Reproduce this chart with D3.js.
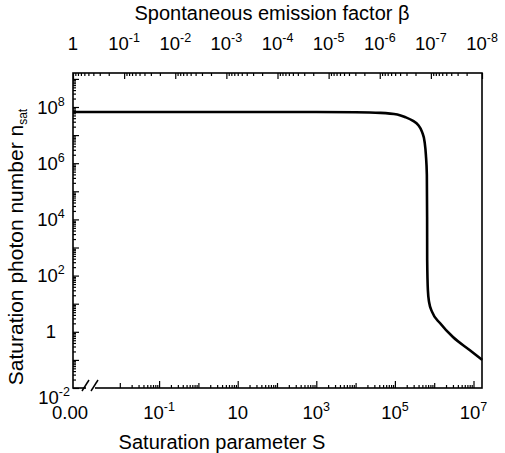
<!DOCTYPE html>
<html><head><meta charset="utf-8">
<script src="https://cdn.jsdelivr.net/npm/d3@7"></script>
<style>
body{margin:0;background:#fff}
text{font-family:"Liberation Sans",Arial,Helvetica,sans-serif;fill:#000}
</style></head>
<body>
<svg id="c" width="505" height="453"></svg>
<script>
// ---- data ----
const sValues = [0, 1e-3, 1e-1, 1e1, 1e3, 1e4, 4.3e4, 1.15e5, 1.8e5, 2.9e5, 3.9e5, 4.9e5, 5.7e5, 6.15e5, 6.5e5, 6.6e5, 6.63e5, 6.9e5, 7.4e5, 8.9e5, 1.4e6, 3.0e6, 8.1e6, 1.66e7];
const nValues = [6.6e7, 6.6e7, 6.6e7, 6.6e7, 6.6e7, 6.5e7, 6.2e7, 5.4e7, 4.4e7, 3.2e7, 2.3e7, 1.3e7, 5.7e6, 1.95e6, 3.8e5, 1.2e4, 3.6e2, 31, 11.5, 5.0, 2.05, 0.65, 0.22, 0.10];
const sLabelExps = [-1, 1, 3, 5, 7];
const nLabelExps = [8, 6, 4, 2, 0, -2];
const betaLabelExps = [0, -1, -2, -3, -4, -5, -6, -7, -8];
const zeroLabel = "0.00";
const xTitle = "Saturation parameter S";
const topTitle = "Spontaneous emission factor β";
const yTitleMain = "Saturation photon number n";
const yTitleSub = "sat";

// ---- layout ----
const L = 73, R = 482, T = 73, B = 388;
const svg = d3.select("#c");

const xLog = d3.scaleLog().domain([1e-3, 1e7]).range([80.5, 473.5]);
const xS = s => s === 0 ? L : xLog(s);
const y = d3.scaleLog().domain([1e-2, Math.pow(10, 9.21)]).range([B, T]);
const xB = d3.scaleLog().domain([1, 1e-8]).range([L, R]);

function decadeTicks(lo, hi, vmin, vmax) {
  const maj = [], min = [];
  for (let k = lo; k <= hi; k++) {
    for (let m = 1; m <= 9; m++) {
      const v = m * Math.pow(10, k);
      if (v < vmin * 0.9999 || v > vmax * 1.0001) continue;
      (m === 1 ? maj : min).push(v);
    }
  }
  return {maj, min};
}

const g = svg.append("g");

// y axis ticks (inward)
const yt = decadeTicks(-2, 9, 1e-2, Math.pow(10, 9.21));
g.append("g").attr("transform", `translate(${L},0)`)
  .call(d3.axisLeft(y).tickValues(yt.maj).tickSize(-6).tickFormat(""))
  .call(a => a.select(".domain").remove());
g.append("g").attr("transform", `translate(${L},0)`)
  .call(d3.axisLeft(y).tickValues(yt.min).tickSize(-3).tickFormat(""))
  .call(a => a.select(".domain").remove());

// bottom ticks
const bt = decadeTicks(-2, 7, 4e-3, xLog.invert(R));
const labeledVals = sLabelExps.map(e => Math.pow(10, e));
g.append("g").attr("transform", `translate(0,${B})`)
  .call(d3.axisBottom(xLog).tickValues(bt.maj.filter(v => !labeledVals.some(l => Math.abs(l - v) / l < 1e-6))).tickSize(-5).tickFormat(""))
  .call(a => a.select(".domain").remove());
g.append("g").attr("transform", `translate(0,${B})`)
  .call(d3.axisBottom(xLog).tickValues(labeledVals).tickSize(-7).tickFormat(""))
  .call(a => a.select(".domain").remove());
g.append("g").attr("transform", `translate(0,${B})`)
  .call(d3.axisBottom(xLog).tickValues(bt.min).tickSize(-3).tickFormat(""))
  .call(a => a.select(".domain").remove());

// top ticks (beta)
const tt = decadeTicks(-8, 0, 1e-8, 1);
g.append("g").attr("transform", `translate(0,${T})`)
  .call(d3.axisTop(xB).tickValues(tt.maj).tickSize(-6).tickFormat(""))
  .call(a => a.select(".domain").remove());
g.append("g").attr("transform", `translate(0,${T})`)
  .call(d3.axisTop(xB).tickValues(tt.min).tickSize(-3).tickFormat(""))
  .call(a => a.select(".domain").remove());

g.selectAll(".tick line").attr("stroke", "#000").attr("stroke-width", 1.2);

// frame
svg.append("rect").attr("x", L).attr("y", T).attr("width", R - L).attr("height", B - T)
  .attr("fill", "none").attr("stroke", "#000").attr("stroke-width", 1.6);

// axis break
svg.append("rect").attr("x", 86).attr("y", B - 3).attr("width", 9).attr("height", 6).attr("fill", "#fff");
[[82, 391, 89, 380], [91, 391, 98, 380]].forEach(d => {
  svg.append("line").attr("x1", d[0]).attr("y1", d[1]).attr("x2", d[2]).attr("y2", d[3])
    .attr("stroke", "#000").attr("stroke-width", 1.5);
});

// curve
const pts = sValues.map((s, i) => [xS(s), y(nValues[i])]);
svg.append("path").attr("d", d3.line().curve(d3.curveMonotoneX)(pts))
  .attr("fill", "none").attr("stroke", "#000").attr("stroke-width", 2.6).attr("stroke-linejoin", "round");

function powLabel(sel, e, supSize) {
  if (e === 0) { sel.text("1"); return; }
  if (e === 1) { sel.text("10"); return; }
  sel.append("tspan").text("10");
  sel.append("tspan").attr("font-size", supSize).attr("dy", -8).text(e);
}

const FS = 18.5, SUP = 12.5;
// y labels
nLabelExps.forEach(e => {
  const yy = y(Math.pow(10, e)) + (e === -2 ? 16 : 6.5);
  const t = svg.append("text").attr("x", e === -2 ? 54 : 51).attr("y", yy)
    .attr("text-anchor", "middle").attr("font-size", FS);
  powLabel(t, e, SUP);
});
// bottom labels
sLabelExps.forEach(e => {
  const t = svg.append("text").attr("x", xLog(Math.pow(10, e))).attr("y", 419)
    .attr("text-anchor", "middle").attr("font-size", FS);
  powLabel(t, e, SUP);
});
svg.append("text").attr("x", 70).attr("y", 419).attr("text-anchor", "middle").attr("font-size", FS).text(zeroLabel);
// top labels
betaLabelExps.forEach(e => {
  const t = svg.append("text").attr("x", xB(Math.pow(10, e))).attr("y", 50)
    .attr("text-anchor", "middle").attr("font-size", FS);
  powLabel(t, e, SUP);
});

// titles
svg.append("text").attr("x", 272).attr("y", 20).attr("text-anchor", "middle").attr("font-size", 20).text(topTitle);
svg.append("text").attr("x", 222).attr("y", 449).attr("text-anchor", "middle").attr("font-size", 20).text(xTitle);
const yt2 = svg.append("text").attr("transform", "translate(23,247) rotate(-90)")
  .attr("text-anchor", "middle").attr("font-size", 21);
yt2.append("tspan").text(yTitleMain);
yt2.append("tspan").attr("font-size", 12).attr("dy", 4).text(yTitleSub);
</script>
</body></html>
